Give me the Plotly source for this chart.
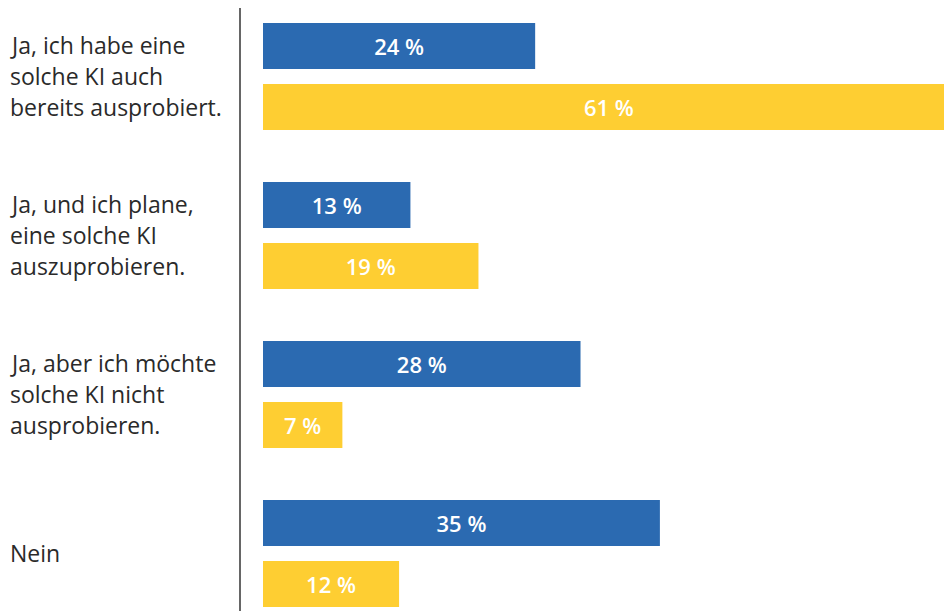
import plotly.graph_objects as go

categories = [
    "Ja, ich habe eine<br>solche KI auch<br>bereits ausprobiert.",
    "Ja, und ich plane,<br>eine solche KI<br>auszuprobieren.",
    "Ja, aber ich möchte<br>solche KI nicht<br>ausprobieren.",
    "Nein",
]
series_blue = [24, 13, 28, 35]
series_yellow = [61, 19, 7, 12]

BLUE = "#2B6AB1"
YELLOW = "#FECE32"
W, H = 944, 611
AX_LEFT = 240
FONT = "Open Sans"

fig = go.Figure()
for vals, col, name in [(series_blue, BLUE, "blau"), (series_yellow, YELLOW, "gelb")]:
    fig.add_trace(go.Bar(
        y=categories, x=vals, orientation="h", name=name,
        marker=dict(color=col, line=dict(width=0)),
        texttemplate="%{x} %", textposition="inside", insidetextanchor="middle",
        textfont=dict(color="white", size=22, family=FONT, weight=600),
        constraintext="none", hoverinfo="skip",
    ))

ann = []
for i, cat in enumerate(categories):
    lines = cat.split("<br>")
    n = len(lines)
    for k, ln in enumerate(lines):
        ann.append(dict(
            text=ln, xref="paper", yref="y", x=-(AX_LEFT - 8) / (W - AX_LEFT), y=cat,
            xanchor="left", yanchor="middle", showarrow=False,
            yshift=-(k - (n - 1) / 2) * 31,
            font=dict(size=23, color="#2a2a2a", family=FONT, weight=400),
        ))

fig.update_layout(
    width=W, height=H, margin=dict(l=AX_LEFT, r=0, t=0, b=0),
    paper_bgcolor="white", plot_bgcolor="white",
    barmode="group", bargap=0.233, bargroupgap=0.246,
    showlegend=False, annotations=ann,
    xaxis=dict(range=[-23 / 11.34, -23 / 11.34 + (W - AX_LEFT) / 11.34],
               showgrid=False, zeroline=False, showticklabels=False, showline=False, fixedrange=True),
    yaxis=dict(range=[3.362, -0.481], showgrid=False, zeroline=False, showticklabels=False,
               showline=False, fixedrange=True),
    shapes=[dict(type="line", xref="paper", yref="paper", x0=0, x1=0, y0=0, y1=1 - 8 / H,
                 line=dict(color="#333333", width=1.5))],
)
fig.write_html("out.html", config={"displayModeBar": False})
